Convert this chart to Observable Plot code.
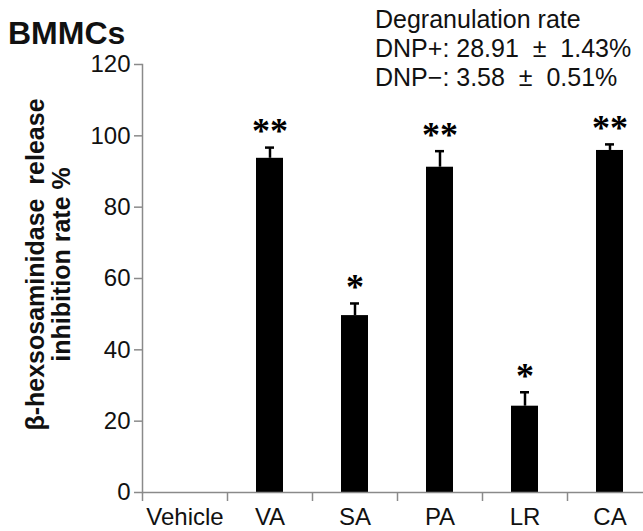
<!DOCTYPE html>
<html>
<head>
<meta charset="utf-8">
<script src="https://cdn.jsdelivr.net/npm/d3@7"></script>
<script src="https://cdn.jsdelivr.net/npm/@observablehq/plot@0.6"></script>
<style>
  html, body { margin: 0; padding: 0; background: #fff; }
  #wrap { position: relative; width: 643px; height: 531px; overflow: hidden; font-family: "Liberation Sans", Arial, sans-serif; color: #111; }
  #title { position: absolute; left: 8px; top: 14px; font-size: 32px; font-weight: bold; line-height: 38px; }
  #note { position: absolute; left: 375px; top: 5px; font-size: 25px; line-height: 29px; white-space: pre; }
  #chart { position: absolute; left: 0; top: 0; }
</style>
</head>
<body>
<div id="wrap">
  <div id="chart"></div>
  <div id="title">BMMCs</div>
  <div id="note">Degranulation rate
DNP+: 28.91  ±  1.43%
DNP−: 3.58  ±  0.51%</div>
</div>
<script>
const categories = ["Vehicle", "VA", "SA", "PA", "LR", "CA"];
const values = [0, 93.7, 49.6, 91.2, 24.2, 95.9];
const errors = [null, 3.0, 3.4, 4.5, 3.9, 1.7];
const stars = ["", "**", "*", "**", "*", "**"];
const yTicks = [0, 20, 40, 60, 80, 100, 120];
const yLabel = "β-hexsosaminidase  release\ninhibition rate %";

const data = categories.map((c, i) => ({cat: c, value: values[i], err: errors[i], star: stars[i]}));
const withErr = data.filter(d => d.err != null);

const axisColor = "#8a8a8a";
const textColor = "#111";

const chart = Plot.plot({
  width: 643,
  height: 531,
  marginLeft: 142,
  marginRight: -9,
  marginTop: 64,
  marginBottom: 39,
  style: {fontFamily: "'Liberation Sans', Arial, sans-serif", color: textColor, background: "transparent"},
  x: {domain: categories, paddingInner: 0.68, paddingOuter: 0.34, align: 0.5},
  y: {domain: [0, 120]},
  marks: [
    Plot.rectY(data, {x: "cat", y: "value", fill: "#000"}),
    Plot.ruleX(withErr, {x: "cat", y1: "value", y2: d => d.value + d.err, stroke: "#000", strokeWidth: 2.5}),
    Plot.tickY(withErr, {x: "cat", y: d => d.value + d.err, stroke: "#000", strokeWidth: 2.5, insetLeft: 9, insetRight: 9}),
    Plot.text(data.filter(d => d.star), {x: "cat", y: d => d.value + d.err, text: "star", dy: -16, fontSize: 36, fontWeight: "bold", fontFamily: "'Liberation Serif', serif", fill: "#000", lineAnchor: "middle"}),
    Plot.ruleY([0], {stroke: axisColor, strokeWidth: 1.5}),
    Plot.frame({anchor: "left", stroke: axisColor, strokeWidth: 1.5}),
    Plot.ruleX(categories, {x: d => d, dx: -42.5, y1: 0, y2: 0, insetBottom: -9, stroke: axisColor, strokeWidth: 1.5}),
    Plot.axisY({ticks: yTicks, tickSize: 8, tickPadding: 4, stroke: axisColor, strokeWidth: 1.5, fontSize: 24, fill: textColor, label: null}),
    Plot.axisX({tickSize: 0, tickPadding: 15, fontSize: 24, fill: textColor, label: null}),
    Plot.text([yLabel], {frameAnchor: "left", text: d => d, rotate: -90, dx: -94, dy: -14, textAnchor: "middle", fontSize: 25, fontWeight: "bold", fill: textColor, lineAnchor: "middle", lineHeight: 1.05})
  ]
});
document.getElementById("chart").appendChild(chart);
</script>
</body>
</html>
